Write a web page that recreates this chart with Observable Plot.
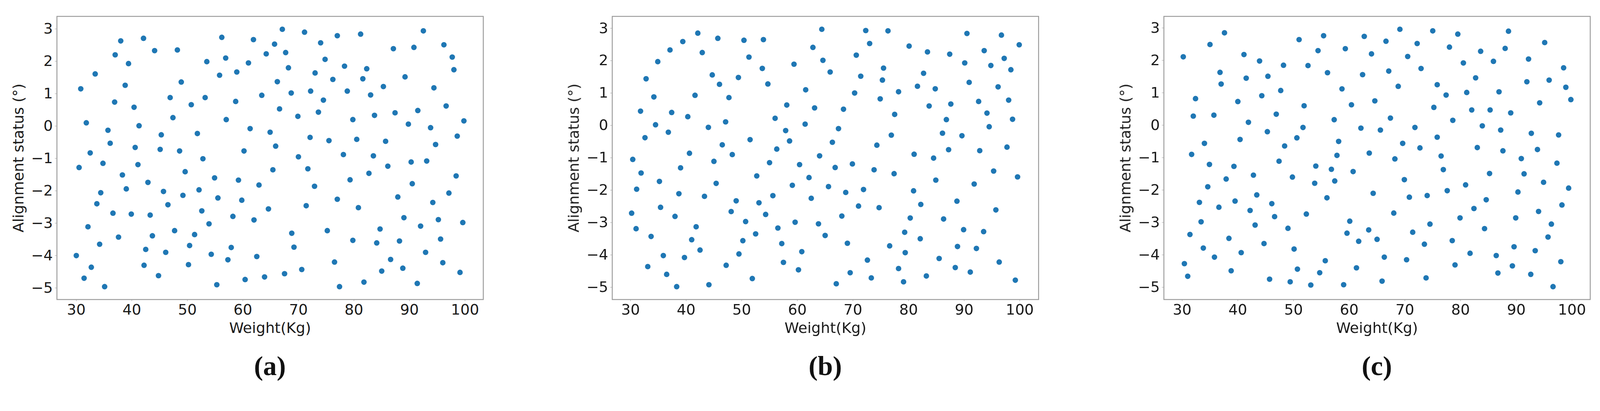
<!DOCTYPE html>
<html>
<head>
<meta charset="utf-8">
<script src="https://cdn.jsdelivr.net/npm/d3@7"></script>
<script src="https://cdn.jsdelivr.net/npm/@observablehq/plot@0.6"></script>
<style>
  html, body { margin: 0; background: #fff; overflow: hidden; }
  #page { position: absolute; left: 0; top: 0; width: 4342px; height: 1053px; transform-origin: 0 0; }
  .panel { position: absolute; top: 0; }
  .tag { position: absolute; top: 957px; width: 1157px; text-align: center;
         font: bold 74px "Liberation Serif", serif; line-height: 74px; color: #111; }
</style>
</head>
<body>
<div id="page"></div>
<script>
// values
const weightA = [30.0,30.5,30.8,31.4,31.8,32.1,32.5,32.7,33.4,33.7,34.2,34.4,34.8,35.1,35.7,36.1,36.6,36.9,37.0,37.6,38.0,38.3,38.8,39.0,39.4,39.9,40.4,40.6,41.1,41.3,42.1,42.2,42.5,42.9,43.3,43.7,44.1,44.8,45.1,45.3,45.7,46.1,46.5,46.9,47.4,47.7,48.2,48.6,48.9,49.2,49.6,50.2,50.4,50.7,51.3,51.8,52.1,52.6,52.8,53.2,53.5,53.9,54.3,54.9,55.3,55.5,55.8,56.2,56.9,57.0,57.3,57.9,58.2,58.7,58.9,59.2,59.8,60.2,60.4,61.0,61.3,61.9,62.0,62.5,62.9,63.4,63.9,64.2,64.6,64.9,65.4,65.7,66.2,66.6,65.9,67.1,67.7,68.2,68.7,69.9,70.0,71.7,71.4,68.8,69.2,67.5,70.6,71.1,72.1,72.2,72.9,73.0,73.6,74.0,74.5,74.8,75.2,75.5,76.2,76.5,77.0,77.0,77.4,78.1,78.3,78.8,79.3,79.8,79.8,80.5,80.8,81.2,81.6,81.8,82.3,82.7,83.0,83.5,83.7,84.1,84.7,85.0,85.3,85.7,86.1,86.6,87.1,87.4,87.9,88.2,88.8,89.0,89.2,89.8,90.3,90.5,90.8,91.4,91.5,92.0,92.5,92.9,93.1,93.8,94.2,94.4,94.7,95.2,95.6,96.0,96.2,96.6,97.1,97.7,98.0,98.4,98.6,99.1,99.6,99.8]
const alignA = [-4.00,-1.28,1.15,-4.70,0.10,-3.11,-0.83,-4.36,1.61,-2.40,-3.65,-2.06,-1.15,-4.96,-0.13,-0.53,-2.69,0.74,2.20,-3.43,2.63,-1.51,1.26,-1.94,1.93,-2.72,0.58,-0.66,-1.19,0.01,2.71,-4.30,-3.81,-1.74,-2.75,-3.39,2.33,-4.62,-0.72,-0.27,-2.02,-3.90,-2.43,0.88,0.26,-3.23,2.35,-0.77,1.36,-2.14,-1.41,-4.28,-3.69,0.66,-3.35,-0.23,-1.97,-2.62,-1.01,0.88,1.99,-3.02,-3.96,-1.60,-4.90,-2.22,1.57,2.74,2.10,0.20,-4.13,-3.75,-2.79,0.76,1.67,-1.67,-2.29,-0.77,-4.74,1.95,-0.08,2.67,-2.90,-4.03,-1.82,0.95,-4.66,2.23,-2.56,-0.19,-1.35,2.53,1.37,0.53,-0.62,2.99,2.27,1.80,1.02,0.30,-0.95,-1.32,-2.46,-3.31,-3.74,-4.56,-4.43,2.90,-0.35,1.08,-1.86,1.64,0.43,2.57,0.80,2.06,-3.23,-0.45,1.44,-4.20,-2.26,2.79,-4.96,-0.88,1.85,1.08,-1.66,0.20,-3.53,-0.41,-2.52,2.84,1.46,-4.82,1.77,-1.46,0.96,-0.92,0.33,-3.61,-3.18,-4.48,1.22,-0.47,-1.24,-4.12,2.39,0.41,-2.19,-3.55,-4.39,-2.83,1.52,0.06,-1.11,-1.78,2.43,-4.86,0.48,-3.09,2.94,-3.90,-1.08,-0.05,-2.36,1.18,-0.57,-2.89,-3.49,-4.22,2.51,0.62,-2.07,2.13,1.74,-1.54,-0.31,-4.52,-2.98,0.16]

const weightB = [30.2,30.4,31.0,31.1,31.8,31.9,32.6,32.8,33.1,33.7,34.2,34.5,34.9,35.2,35.4,35.9,36.5,36.8,37.1,37.4,38.0,38.3,38.7,39.0,39.4,39.7,40.3,40.6,41.0,41.6,41.8,42.1,42.5,42.9,43.3,44.0,44.1,44.7,45.0,45.4,45.7,46.0,46.5,47.1,47.2,47.7,48.1,48.3,49.0,49.4,49.5,50.2,50.4,50.7,51.3,51.5,51.9,52.5,52.7,53.1,53.7,53.9,54.3,54.7,55.0,55.6,56.0,56.3,56.5,57.2,57.5,57.9,58.1,58.6,59.4,59.1,59.6,60.4,60.2,60.8,61.4,61.5,62.1,62.5,62.8,63.1,63.8,64.0,64.4,64.6,65.0,65.6,65.9,66.3,66.8,67.0,67.4,68.0,68.3,68.7,69.0,69.5,69.9,70.3,70.6,71.0,71.4,71.9,72.3,72.6,73.0,73.3,73.8,74.3,74.7,74.9,75.3,75.5,76.3,76.6,76.9,77.4,77.5,78.2,78.2,79.1,79.3,79.4,80.1,80.3,80.9,81.0,81.6,82.1,82.2,82.7,83.2,83.4,83.7,84.5,84.8,84.9,85.5,86.1,86.3,86.8,87.2,87.4,87.6,88.4,88.7,88.8,89.6,89.9,90.1,90.5,90.9,91.1,91.8,92.2,92.6,92.8,93.5,93.6,94.1,94.5,94.8,95.3,95.7,96.1,96.3,96.7,97.2,97.7,98.0,98.4,98.7,99.2,99.6,99.9]
const alignB = [-2.71,-1.05,-3.19,-1.97,0.44,-1.47,-0.38,1.44,-4.36,-3.43,0.88,0.02,1.97,-1.73,-2.53,-4.02,-4.60,-0.21,2.33,0.40,-2.81,-4.98,-2.11,-1.31,2.59,-4.08,0.27,-0.86,-3.53,0.93,-3.13,2.85,-3.85,2.25,-2.19,-0.06,-4.92,1.56,-1.11,-1.79,2.69,1.27,-0.60,0.11,-4.32,0.86,-2.66,-0.90,-2.33,1.48,-3.97,-3.56,2.63,-2.97,2.11,-0.44,-4.73,-3.35,-1.56,-2.39,1.76,2.65,-2.75,1.28,-1.15,-2.17,0.22,-0.73,-3.17,-3.65,-4.23,-0.16,0.63,-0.48,1.89,-1.85,-2.99,-1.21,-4.46,-3.90,0.04,1.10,-1.61,-2.25,2.41,0.54,-3.04,-0.94,2.97,2.01,-3.40,-1.89,1.65,-0.52,-1.30,-4.89,-0.10,-2.80,0.50,-2.07,-3.64,-4.55,-1.19,1.00,2.17,-2.49,1.52,-1.98,2.93,-4.16,2.53,-4.71,-1.37,-0.61,-2.54,0.82,1.40,1.77,2.92,-3.72,-0.30,-1.49,0.34,1.04,-4.42,-4.83,-3.30,-3.93,2.45,-2.86,-2.02,-0.89,1.21,-3.50,-2.44,1.61,-4.65,2.27,0.60,-1.01,1.13,-1.69,-4.11,-0.24,-2.89,0.18,-0.75,2.20,0.66,-4.39,-2.34,-3.74,-0.32,-3.22,1.93,2.84,1.33,-4.53,-1.81,-3.80,0.74,-0.78,-3.28,2.31,0.38,-0.04,1.85,-1.41,-2.61,1.19,-4.22,2.79,2.07,-0.67,0.78,1.72,0.19,-4.78,-1.59,2.49]

const weightC = [30.2,30.4,31.0,31.4,31.7,32.0,32.4,33.1,33.4,33.8,34.0,34.6,34.9,35.0,35.7,35.8,36.6,36.8,37.0,37.6,37.9,38.4,38.8,39.3,39.5,40.0,40.4,40.6,41.1,41.5,41.9,42.2,42.8,43.1,43.4,43.9,44.3,44.7,45.3,45.4,45.7,46.1,46.6,46.9,47.4,47.7,48.2,48.4,49.0,49.4,49.8,50.1,50.6,50.7,51.0,51.7,51.9,52.3,52.6,53.1,53.8,54.0,54.4,54.7,55.4,55.7,56.0,56.1,56.8,57.3,57.4,57.8,58.1,58.7,59.3,59.6,59.0,60.1,60.4,60.7,61.3,61.7,62.1,62.4,62.7,63.5,63.6,64.0,64.3,64.6,65.0,65.6,65.9,66.3,66.6,67.1,67.4,68.0,68.2,68.8,69.1,69.6,69.9,70.3,70.5,70.8,71.4,71.8,72.2,72.7,72.9,73.5,73.8,74.0,74.5,75.0,75.2,75.8,75.8,76.5,76.9,77.4,77.6,78.0,78.5,78.6,79.0,79.5,79.9,80.5,80.9,81.1,81.7,82.0,82.4,82.7,83.0,83.6,83.9,84.3,84.6,85.2,85.3,85.9,86.4,86.7,86.9,87.2,87.6,88.0,88.6,89.0,89.3,89.6,89.9,90.3,90.9,91.4,91.9,92.2,92.6,92.7,93.4,93.8,94.0,94.2,94.9,95.1,95.7,95.9,96.3,96.6,97.3,97.6,98.0,98.2,98.5,98.9,99.4,99.8]
const alignC = [2.11,-4.27,-4.66,-3.37,-0.90,0.28,0.82,-2.38,-2.98,-3.79,-0.56,-1.90,-1.21,2.49,0.31,-4.07,-2.53,1.63,1.27,2.85,-1.66,-3.49,-4.49,-1.27,-2.34,0.73,-0.44,-3.93,2.18,1.45,0.09,-2.63,-1.54,-3.08,-2.15,1.98,0.91,-3.65,-0.20,1.51,-4.75,-2.42,-2.82,0.34,-1.11,1.07,1.85,-0.64,-3.18,-4.83,-1.60,-3.82,-0.39,-4.44,2.64,-0.07,0.60,-2.74,1.84,-4.93,-1.79,-1.26,2.30,-4.55,2.76,-4.18,-2.24,1.62,-1.36,0.17,-1.72,-0.93,-0.50,1.12,2.36,-3.33,-4.92,-2.96,0.63,-1.43,-4.40,-3.58,-0.09,1.56,2.74,-3.23,-0.86,2.20,-2.10,0.75,-3.52,-0.15,-4.81,-4.07,2.59,1.67,0.22,-2.71,-1.04,1.20,2.96,-0.56,-1.68,-4.15,2.12,-2.22,-3.30,-0.07,2.52,-0.70,1.75,-3.67,-4.71,-2.17,-3.05,2.91,0.55,-0.37,1.25,-0.95,-1.37,0.93,-2.02,2.41,-3.56,0.15,-4.31,2.81,-2.86,1.92,-1.84,1.01,-3.95,0.47,-2.57,1.46,-0.69,2.28,-0.02,-3.19,-2.30,-1.49,0.47,1.97,-4.02,-4.56,1.03,-0.15,-0.79,2.37,2.90,0.38,-4.34,-3.75,-2.86,-2.06,-1.03,-1.50,1.34,2.04,-4.60,-0.25,-3.87,-0.75,-2.66,0.69,-1.76,2.55,-3.45,1.39,-3.05,-4.98,-1.17,-0.30,-4.21,-2.46,1.77,1.17,-1.94,0.79]

const xTicks = [30, 40, 50, 60, 70, 80, 90, 100]
const yTicks = [-5, -4, -3, -2, -1, 0, 1, 2, 3]
const panelTags = ["(a)", "(b)", "(c)"]
const xTitle = "Weight(Kg)"
const yTitle = "Alignment status (°)"

const page = document.getElementById("page")
// fit the 4342 px wide layout to whatever the viewport really is
page.style.transform = `scale(${window.innerWidth / 4342})`

// matplotlib-style 5% margin around the data
function padded(values) {
  const [lo, hi] = d3.extent(values)
  const m = (hi - lo) * 0.05
  return [lo - m, hi + m]
}

function drawPanel(weight, align, left, tag) {
  const chart = Plot.plot({
    width: 1330,
    height: 930,
    marginLeft: 154,
    marginRight: 19,
    marginTop: 44,
    marginBottom: 117,
    style: { fontFamily: "DejaVu Sans", fontSize: "40px", color: "#1a1a1a", background: "white", overflow: "visible" },
    x: { domain: padded(weight) },
    y: { domain: padded(align) },
    marks: [
      Plot.axisX({ ticks: xTicks, tickSize: 5, tickPadding: 7, label: null, stroke: "#999", fontSize: 40 }),
      Plot.axisY({ ticks: yTicks, tickSize: 5, tickPadding: 6, label: null, stroke: "#999", fontSize: 40 }),
      Plot.dot(weight, { x: d => d, y: align, r: 7.5, fill: "#1f77b4" }),
      Plot.frame({ stroke: "#9a9a9a", strokeWidth: 2.5 }),
      Plot.text([xTitle], { frameAnchor: "bottom", dy: 78, textAnchor: "middle", lineAnchor: "middle",
        text: d => d, fontSize: 40, fill: "#1a1a1a" }),
      Plot.text([yTitle], { frameAnchor: "left", dx: -104, rotate: -90, textAnchor: "middle", lineAnchor: "middle",
        text: d => d, fontSize: 40, fill: "#1a1a1a" })
    ]
  })
  const box = document.createElement("div")
  box.className = "panel"
  box.style.left = left + "px"
  box.append(chart)
  page.append(box)

  const label = document.createElement("div")
  label.className = "tag"
  label.style.left = (left + 154) + "px"
  label.textContent = tag
  page.append(label)
}

drawPanel(weightA, alignA, 0, panelTags[0])
drawPanel(weightB, alignB, 1507, panelTags[1])
drawPanel(weightC, alignC, 3004, panelTags[2])
</script>
</body>
</html>
